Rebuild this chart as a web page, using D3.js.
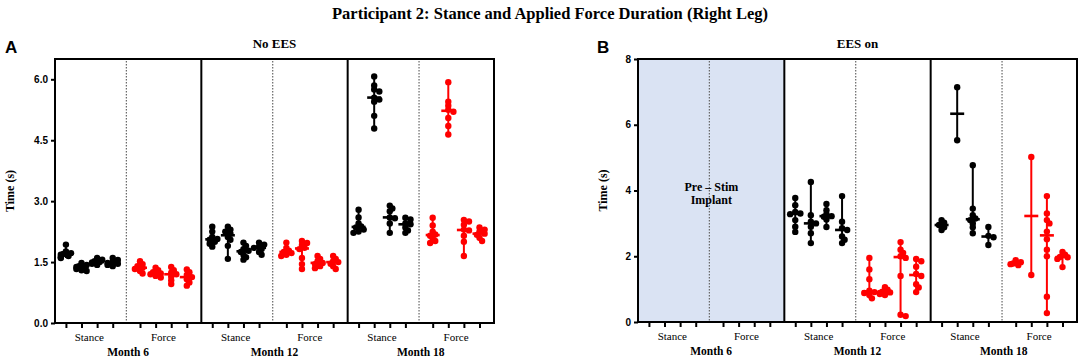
<!DOCTYPE html>
<html lang="en">
<head>
<meta charset="utf-8">
<title>Participant 2</title>
<script src="https://d3js.org/d3.v7.min.js"></script>
<style>
  body { margin: 0; background: #fff; }
  svg { display: block; }
</style>
</head>
<body>
<svg width="1084" height="363"></svg>
<script>
// ---- data (seconds), four trials per measure per month ----
var months = ["Month 6", "Month 12", "Month 18"];
var measures = ["Stance", "Force"];

var noEES_m6_stance = [
  [1.93, 1.76, 1.72, 1.70, 1.68, 1.65, 1.62, 1.60],
  [1.48, 1.43, 1.40, 1.38, 1.36, 1.33, 1.30, 1.28],
  [1.60, 1.56, 1.52, 1.50, 1.49, 1.46, 1.43],
  [1.60, 1.55, 1.51, 1.48, 1.46, 1.43, 1.40]
];
var noEES_m6_force = [
  [1.52, 1.45, 1.40, 1.36, 1.33, 1.28, 1.22],
  [1.36, 1.30, 1.25, 1.22, 1.20, 1.16, 1.12],
  [1.38, 1.30, 1.24, 1.20, 1.14, 1.05, 0.96],
  [1.32, 1.25, 1.18, 1.13, 1.08, 1.00, 0.92]
];
var noEES_m12_stance = [
  [2.37, 2.25, 2.12, 2.07, 2.05, 2.00, 1.95, 1.88],
  [2.37, 2.30, 2.25, 2.20, 2.12, 2.05, 1.90, 1.58],
  [1.98, 1.90, 1.82, 1.78, 1.75, 1.68, 1.62, 1.56],
  [1.98, 1.93, 1.88, 1.85, 1.82, 1.75, 1.68]
];
var noEES_m12_force = [
  [1.98, 1.85, 1.78, 1.75, 1.72, 1.68, 1.65],
  [2.02, 1.97, 1.92, 1.85, 1.82, 1.60, 1.45, 1.33],
  [1.65, 1.58, 1.52, 1.48, 1.45, 1.40, 1.35],
  [1.65, 1.58, 1.52, 1.50, 1.46, 1.40, 1.33]
];
var noEES_m18_stance = [
  [2.79, 2.60, 2.45, 2.38, 2.35, 2.30, 2.25, 2.22],
  [6.07, 5.85, 5.75, 5.70, 5.55, 5.50, 5.45, 5.10, 4.79],
  [2.89, 2.82, 2.75, 2.60, 2.58, 2.45, 2.22],
  [2.59, 2.55, 2.45, 2.43, 2.35, 2.28, 2.22]
];
var noEES_m18_force = [
  [2.59, 2.40, 2.25, 2.18, 2.15, 2.08, 2.02, 1.97],
  [5.93, 5.45, 5.35, 5.25, 5.20, 5.05, 4.85, 4.64],
  [2.54, 2.50, 2.42, 2.30, 2.28, 2.15, 2.00, 1.65],
  [2.35, 2.30, 2.25, 2.20, 2.17, 2.10, 2.02]
];

var ees_m12_stance = [
  [3.77, 3.55, 3.35, 3.30, 3.28, 3.10, 2.90, 2.74],
  [4.26, 3.25, 3.05, 3.00, 2.90, 2.70, 2.40],
  [3.59, 3.40, 3.28, 3.22, 3.20, 3.12, 2.89],
  [3.83, 3.05, 2.85, 2.80, 2.60, 2.50, 2.40]
];
var ees_m12_force = [
  [1.95, 1.60, 1.30, 0.95, 0.91, 0.88, 0.82, 0.72],
  [1.06, 0.98, 0.92, 0.90, 0.88, 0.85, 0.82],
  [2.43, 2.20, 2.10, 2.00, 1.95, 1.40, 0.22, 0.18],
  [1.92, 1.85, 1.68, 1.46, 1.40, 1.15, 1.05, 0.91]
];
var ees_m18_stance = [
  [3.10, 3.02, 2.95, 2.88, 2.80],
  [7.14, 5.53],
  [4.77, 3.45, 3.25, 3.15, 3.10, 3.00, 2.88, 2.70],
  [2.89, 2.62, 2.58, 2.34]
];
var ees_m18_force = [
  [1.88, 1.82, 1.78, 1.76, 1.73],
  [5.02, 1.43],
  [3.83, 3.30, 3.10, 3.00, 2.75, 2.52, 2.20, 2.00, 0.77, 0.27],
  [2.13, 2.05, 1.98, 1.97, 1.92, 1.67]
];

var yTicksA = [0, 1.5, 3.0, 4.5, 6.0];
var yTicksB = [0, 2, 4, 6, 8];

var svg = d3.select("svg");
var serif = "'Liberation Serif', 'Times New Roman', serif";
var sans = "'Liberation Sans', Arial, sans-serif";
var red = "#ff0000";

svg.append("text")
  .attr("x", 550).attr("y", 19)
  .attr("text-anchor", "middle")
  .style("font-family", serif).style("font-weight", "bold").style("font-size", "16.5px")
  .text("Participant 2: Stance and Applied Force Duration (Right Leg)");

// slot positions inside one month block: 4 stance, gap, 4 force
var slots = [0, 1, 2, 3, 4.75, 5.75, 6.75, 7.75];

// small deterministic swarm so overlapping dots spread a little sideways
function swarm(vals, y, r) {
  var placed = [];
  var offs = [0, 1, -1, 2, -2];
  vals.slice().sort(d3.descending).forEach(function(v) {
    var py = y(v), dx = 0;
    for (var k = 0; k < offs.length; k++) {
      dx = offs[k] * r * 0.8;
      var hit = placed.some(function(p) {
        return Math.hypot(p.x - dx, p.y - py) < r * 1.1;
      });
      if (!hit) break;
    }
    placed.push({x: dx, y: py, v: v});
  });
  return placed;
}

function drawPanel(opt) {
  var g = svg.append("g");
  var y = d3.scaleLinear().domain([0, opt.ymax]).range([opt.bottom, opt.top]);
  var bw = (opt.right - opt.left) / 3;

  // shaded blocks
  opt.blocks.forEach(function(b, i) {
    if (b.shade) {
      g.append("rect")
        .attr("x", opt.left + i * bw).attr("y", opt.top)
        .attr("width", bw).attr("height", opt.bottom - opt.top)
        .attr("fill", "#dae3f3");
    }
  });

  opt.blocks.forEach(function(b, i) {
    var x0 = opt.left + i * bw;
    var x = d3.scaleLinear().domain([-0.7, 8.68]).range([x0, x0 + bw]);

    // dotted split between stance / force
    var mid = x((3 + 4.75) / 2);
    g.append("line")
      .attr("x1", mid).attr("x2", mid)
      .attr("y1", opt.top + 2).attr("y2", opt.bottom)
      .attr("stroke", "#666").attr("stroke-width", 1.2)
      .attr("stroke-dasharray", "1.5,1.5");

    // bottom ticks
    var ax = d3.axisBottom(x).tickValues(slots).tickSize(5).tickFormat("");
    var axg = g.append("g").attr("transform", "translate(0," + opt.bottom + ")").call(ax);
    axg.select(".domain").remove();
    axg.selectAll("line").attr("stroke", "#000").attr("stroke-width", 2);

    g.append("text").attr("x", x(1.5)).attr("y", opt.bottom + 18)
      .attr("text-anchor", "middle")
      .style("font-family", serif).style("font-size", "11px")
      .text(measures[0]);
    g.append("text").attr("x", x(6.25)).attr("y", opt.bottom + 18)
      .attr("text-anchor", "middle")
      .style("font-family", serif).style("font-size", "11px")
      .text(measures[1]);
    g.append("text").attr("x", (x.range()[0] + x.range()[1]) / 2).attr("y", opt.bottom + 33)
      .attr("text-anchor", "middle")
      .style("font-family", serif).style("font-weight", "bold").style("font-size", "11.5px")
      .text(months[i]);

    if (b.note) {
      b.note.forEach(function(t, j) {
        g.append("text").attr("x", mid + 2).attr("y", y(4.0) + j * 13)
          .attr("text-anchor", "middle")
          .style("font-family", serif).style("font-weight", "bold").style("font-size", "12px")
          .text(t);
      });
    }

    var sets = [];
    if (b.stance) b.stance.forEach(function(v, k) { sets.push({vals: v, pos: slots[k], col: "#000"}); });
    if (b.force) b.force.forEach(function(v, k) { sets.push({vals: v, pos: slots[k + 4], col: red}); });

    sets.forEach(function(s) {
      var cx = x(s.pos);
      var med = d3.median(s.vals);
      var ext = d3.extent(s.vals);
      var sg = g.append("g");
      sg.append("line")
        .attr("x1", cx).attr("x2", cx)
        .attr("y1", y(ext[0])).attr("y2", y(ext[1]))
        .attr("stroke", s.col).attr("stroke-width", 2);
      sg.selectAll("circle")
        .data(swarm(s.vals, y, 3.2))
        .enter().append("circle")
        .attr("cx", function(d) { return cx + d.x; })
        .attr("cy", function(d) { return d.y; })
        .attr("r", 3.2)
        .attr("fill", s.col);
      sg.append("line")
        .attr("x1", cx - 7).attr("x2", cx + 7)
        .attr("y1", y(med)).attr("y2", y(med))
        .attr("stroke", s.col).attr("stroke-width", 2.6);
    });

    if (i > 0) {
      g.append("line")
        .attr("x1", x0).attr("x2", x0)
        .attr("y1", opt.top).attr("y2", opt.bottom)
        .attr("stroke", "#000").attr("stroke-width", 2);
    }
  });

  // frame
  g.append("rect")
    .attr("x", opt.left).attr("y", opt.top)
    .attr("width", opt.right - opt.left).attr("height", opt.bottom - opt.top)
    .attr("fill", "none").attr("stroke", "#000").attr("stroke-width", 2);

  // y axis
  var yAxis = d3.axisLeft(y).tickValues(opt.yticks).tickSize(4).tickFormat(d3.format(opt.fmt));
  var yg = g.append("g").attr("transform", "translate(" + opt.left + ",0)").call(yAxis);
  yg.select(".domain").remove();
  yg.selectAll("line").attr("stroke", "#000").attr("stroke-width", 2);
  yg.selectAll("text")
    .style("font-family", sans).style("font-weight", "bold").style("font-size", "10px")
    .attr("fill", "#000");

  g.append("text")
    .attr("transform", "translate(" + opt.ylabX + "," + ((opt.top + opt.bottom) / 2) + ") rotate(-90)")
    .attr("text-anchor", "middle")
    .style("font-family", serif).style("font-weight", "bold").style("font-size", "12px")
    .text("Time (s)");

  g.append("text")
    .attr("x", (opt.left + opt.right) / 2).attr("y", 48)
    .attr("text-anchor", "middle")
    .style("font-family", serif).style("font-weight", "bold").style("font-size", "13px")
    .text(opt.title);

  g.append("text")
    .attr("x", opt.letterX).attr("y", 53)
    .style("font-family", sans).style("font-weight", "bold").style("font-size", "17px")
    .text(opt.letter);
}

drawPanel({
  left: 55, right: 494, top: 59, bottom: 323, ymax: 6.5,
  yticks: yTicksA, fmt: ".1f", ylabX: 14, letter: "A", letterX: 5, title: "No EES",
  blocks: [
    {stance: noEES_m6_stance, force: noEES_m6_force},
    {stance: noEES_m12_stance, force: noEES_m12_force},
    {stance: noEES_m18_stance, force: noEES_m18_force}
  ]
});

drawPanel({
  left: 638, right: 1077, top: 59, bottom: 322, ymax: 8,
  yticks: yTicksB, fmt: "d", ylabX: 607, letter: "B", letterX: 597, title: "EES on",
  blocks: [
    {shade: true, note: ["Pre \u2013 Stim", "Implant"]},
    {stance: ees_m12_stance, force: ees_m12_force},
    {stance: ees_m18_stance, force: ees_m18_force}
  ]
});
</script>
</body>
</html>
